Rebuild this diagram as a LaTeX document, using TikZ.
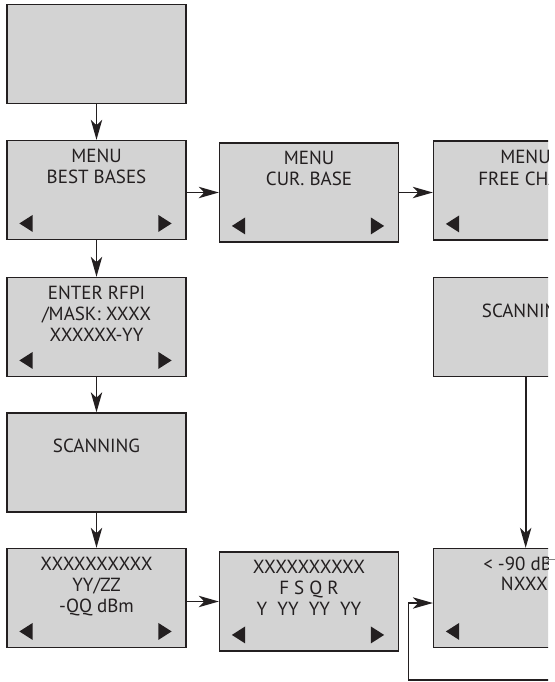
\documentclass[tikz,border=0pt]{standalone}
\usepackage{fontspec}
\setmainfont{PT Sans}
\usetikzlibrary{arrows.meta,calc}
\definecolor{screenfill}{RGB}{211,211,211}
\definecolor{ink}{RGB}{35,31,32}
\newcommand{\backtri}[1]{\fill[ink] ($(#1.south west)+(13,-16.7)$) -- ++(13.3,-8.5) -- ++(0,17) -- cycle;}
\newcommand{\fwdtri}[1]{\fill[ink] ($(#1.south east)+(-15,-16.7)$) -- ++(-13.3,-8.5) -- ++(0,17) -- cycle;}
\begin{document}
\begin{tikzpicture}[x=0.75pt, y=-0.75pt,
    screen/.style={draw=ink, fill=screenfill, line width=1.2pt, minimum width=134pt, minimum height=74pt, inner sep=0pt},
    txt/.style={font=\fontsize{14.25}{15.75}\selectfont, align=center, inner sep=0pt, text=ink},
    arr/.style={draw=ink, line width=1.3pt, -{Stealth[length=15pt, width=8.5pt, inset=4pt]}}]
  \useasboundingbox (0,0) rectangle (555,682);
  \begin{scope}
    \clip (0,0) rectangle (548,682);
    \node[screen] (start) at (96.5, 54) {};
    \node[screen] (bestbases) at (96.5, 190) {};
    \node[screen] (curbase) at (309, 192.5) {};
    \node[screen] (freechan) at (523, 190.5) {};
    \node[screen] (enterrfpi) at (96.5, 327) {};
    \node[screen] (scanright) at (523, 327) {};
    \node[screen] (scanleft) at (96.5, 462.5) {};
    \node[screen] (result) at (96.5, 598) {};
    \node[screen] (fsqr) at (309, 601.5) {};
    \node[screen] (level) at (523, 598) {};
    \node[txt, anchor=base] (bbtext) at ($(bestbases.north)+(0,44)$) {MENU\\BEST BASES};
    \node[txt, anchor=base] (cbtext) at ($(curbase.north)+(0,43.5)$) {MENU\\CUR. BASE};
    \node[txt, anchor=base west] (fctext) at (500,163) {MENU};
    \node[txt, anchor=base west] (fctext2) at (478,185) {FREE CHA};
    \node[txt, anchor=base] (ertext) at ($(enterrfpi.north)+(0,65)$) {ENTER RFPI\\/MASK: XXXX\\XXXXXX-YY};
    \node[txt, anchor=base west] (srtext) at (481.7,317) {SCANNIN};
    \node[txt, anchor=base] (sltext) at ($(scanleft.north)+(0,40)$) {SCANNING};
    \node[txt, anchor=base] (rstext) at ($(result.north)+(0,65)$) {XXXXXXXXXX\\YY/ZZ\\-QQ dBm};
    \node[txt, anchor=base] (fstext) at ($(fsqr.north)+(0,64)$) {XXXXXXXXXX\\F S Q R\\Y~~YY~~YY~~YY};
    \node[txt, anchor=base west] (lvtext) at (483,570.7) {< -90 dB};
    \node[txt, anchor=base west] (lvtext2) at (500.7,590.7) {NXXX};
    \backtri{bestbases} \fwdtri{bestbases}
    \backtri{curbase} \fwdtri{curbase}
    \backtri{freechan}
    \backtri{enterrfpi} \fwdtri{enterrfpi}
    \backtri{result} \fwdtri{result}
    \backtri{fsqr} \fwdtri{fsqr}
    \backtri{level}
    \draw[arr] (start) -- (bestbases);
    \draw[arr] (bestbases.east |- curbase) -- (curbase.west);
    \draw[arr] (curbase.east) -- (curbase.east -| freechan.west);
    \draw[arr] (bestbases) -- (enterrfpi);
    \draw[arr] (enterrfpi) -- (scanleft);
    \draw[arr] (scanleft) -- (result);
    \draw[arr] (result.east |- fsqr) -- (fsqr.west);
    \draw[arr] ([xshift=2pt]scanright.south) -- ([xshift=2pt]level.north);
    \coordinate (loopend) at (560,680);
    \coordinate (loopin) at ($(level.west)+(0,5)$);
    \coordinate (loopcorner) at ($(loopin)+(-24,0)$);
    \draw[arr, line width=0.9pt] (loopend) -| (loopcorner) -- (loopin);
  \end{scope}
  \coordinate (tickstart) at (546,559);
  \coordinate (tickend) at (555,559);
  \draw[gray, line width=0.6pt] (tickstart) -- (tickend);
\end{tikzpicture}
\end{document}
